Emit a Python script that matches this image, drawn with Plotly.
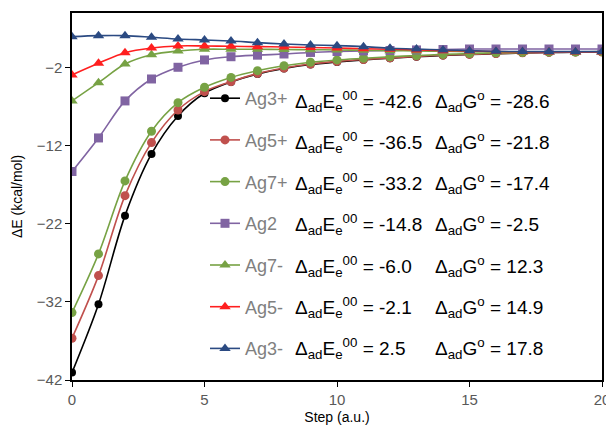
import plotly.graph_objects as go

steps = list(range(21))

names = ["Ag3+", "Ag5+", "Ag7+", "Ag2", "Ag7-", "Ag5-", "Ag3-"]
ads_E = ["-42.6", "-36.5", "-33.2", "-14.8", "-6.0", "-2.1", "2.5"]
ads_G = ["-28.6", "-21.8", "-17.4", "-2.5", "12.3", "14.9", "17.8"]

ag3_plus = [-41.05, -32.3, -20.95, -13.05, -8.18, -5.28, -3.83, -2.81, -2.1, -1.59, -1.27,
            -1.0, -0.78, -0.6, -0.45, -0.32, -0.22, -0.12, -0.06, -0.02, 0.0]
ag5_plus = [-36.65, -28.63, -18.39, -11.6, -7.42, -5.07, -3.79, -2.74, -2.04, -1.53, -1.2,
            -0.95, -0.75, -0.55, -0.4, -0.3, -0.2, -0.1, -0.05, 0.0, 0.0]
ag7_plus = [-33.37, -25.85, -16.5, -10.14, -6.48, -4.51, -3.25, -2.38, -1.76, -1.31, -1.01,
            -0.8, -0.6, -0.45, -0.3, -0.2, -0.1, -0.05, 0.0, 0.0, 0.05]
ag2 = [-15.3, -11.0, -6.26, -3.45, -1.95, -1.01, -0.6, -0.4, -0.25, -0.05, 0.07,
       0.14, 0.2, 0.27, 0.33, 0.39, 0.39, 0.39, 0.39, 0.39, 0.39]
ag7_minus = [-6.26, -3.92, -1.53, -0.34, 0.14, 0.36, 0.36, 0.36, 0.33, 0.3, 0.27,
             0.23, 0.18, 0.14, 0.1, 0.05, 0.02, 0.02, 0.02, 0.02, 0.02]
ag5_minus = [-2.93, -1.44, -0.08, 0.52, 0.78, 0.78, 0.74, 0.69, 0.65, 0.59, 0.52,
             0.43, 0.36, 0.27, 0.18, 0.14, 0.07, 0.03, 0.02, 0.02, 0.02]
ag3_minus = [1.97, 2.1, 2.1, 1.9, 1.67, 1.55, 1.42, 1.2, 1.03, 0.91, 0.82,
             0.69, 0.48, 0.39, 0.27, 0.18, 0.1, 0.06, 0.05, 0.05, 0.05]

series = [ag3_plus, ag5_plus, ag7_plus, ag2, ag7_minus, ag5_minus, ag3_minus]
colors = ["#000000", "#C0504D", "#77A244", "#8064A2", "#77A244", "#FF1F1F", "#2B4A82"]
symbols = ["circle", "circle", "circle", "square", "triangle-up", "triangle-up", "triangle-up"]
sizes = [8, 9, 9, 9, 10, 10, 10]

y_ticks = [-42, -32, -22, -12, -2]
x_ticks = [0, 5, 10, 15, 20]

fig = go.Figure()
for i in range(len(names)):
    fig.add_trace(go.Scatter(
        x=steps, y=series[i], name=names[i], legendgroup=names[i],
        mode="lines+markers",
        line=dict(color=colors[i], width=1.6, shape="spline", smoothing=0.9),
        marker=dict(color=colors[i], symbol=symbols[i], size=sizes[i]),
    ))

# page body has an 8px margin; figure is sized to fit the 614x438 window
OFF = 8
W, H = 614 - OFF, 438 - OFF
ml, mr, mt, mb = 72 - OFF, 12, 13 - OFF, 58
pw, ph = W - ml - mr, H - mt - mb

def px_to_paper_x(px):
    return (px - OFF - ml) / pw

def px_to_paper_y(py):
    return (H - mb - (py - OFF)) / ph

row0_px = 101
row_gap = 41.3
ann = []
for i in range(len(names)):
    py = row0_px + i * row_gap
    ann.append(dict(xref="paper", yref="paper", x=px_to_paper_x(293), y=px_to_paper_y(py),
                    xanchor="left", yanchor="middle",
                    text="Δ<sub>ad</sub>E<sub>e</sub><sup>00</sup> = " + ads_E[i], showarrow=False,
                    font=dict(size=19, color="#000000", family="Liberation Sans, Arial")))
    ann.append(dict(xref="paper", yref="paper", x=px_to_paper_x(433), y=px_to_paper_y(py),
                    xanchor="left", yanchor="middle",
                    text="Δ<sub>ad</sub>G<sup>o</sup> = " + ads_G[i], showarrow=False,
                    font=dict(size=19, color="#000000", family="Liberation Sans, Arial")))

fig.update_layout(
    width=W, height=H,
    margin=dict(l=ml, r=mr, t=mt, b=mb, autoexpand=False),
    paper_bgcolor="white", plot_bgcolor="white",
    font=dict(family="Liberation Sans, Arial", color="#595959"),
    showlegend=True,
    legend=dict(x=px_to_paper_x(205), y=px_to_paper_y(row0_px - 21), xanchor="left", yanchor="top",
                bgcolor="rgba(0,0,0,0)", font=dict(size=18, color="#808080"),
                tracegroupgap=15.3, itemwidth=30),
    annotations=ann,
    xaxis=dict(range=[0, 20], tickvals=x_ticks, ticks="outside", ticklen=5, tickcolor="#000",
               showline=True, linecolor="#000", linewidth=1.5, mirror=True, showgrid=False, zeroline=False,
               tickfont=dict(size=15, color="#595959"),
               title=dict(text="Step (a.u.)", font=dict(size=14, color="#000000"), standoff=5)),
    yaxis=dict(range=[-42, 5], tickvals=y_ticks, ticks="outside", ticklen=5, tickcolor="#000",
               showline=True, linecolor="#000", linewidth=1.5, mirror=True, showgrid=False, zeroline=False,
               tickfont=dict(size=15, color="#595959"),
               title=dict(text="ΔE (kcal/mol)", font=dict(size=14, color="#000000"), standoff=11)),
)

fig.write_html("out.html")
